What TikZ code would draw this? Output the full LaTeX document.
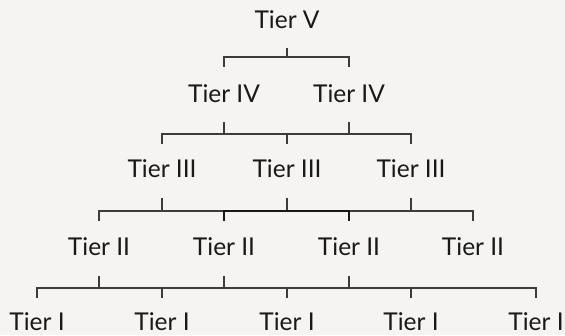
\documentclass[tikz,border=0pt]{standalone}
\usepackage{fontspec}
\setmainfont{Lato}
\definecolor{paper}{HTML}{F5F4F2}
\definecolor{linegray}{HTML}{3C3C3C}
\tikzset{
  tier/.style={font=\fontsize{24.5}{30}\selectfont, text=black!90, anchor=base, inner sep=0pt, text depth=0pt},
  link/.style={draw=linegray, line width=1.2pt, line cap=butt},
  strong/.style={draw=black!90, line width=1.5pt}
}
\begin{document}
\begin{tikzpicture}[x=1pt,y=-1pt]
\fill[paper] (0,0) rectangle (565,335);
\useasboundingbox (0,0) rectangle (565,335);
% nodes
\node[tier] (t5)  at (287,28) {Tier V};
\node[tier] (t4a) at (224,102) {Tier IV};
\node[tier] (t4b) at (349,102) {Tier IV};
\node[tier] (t3a) at (162,177) {Tier III};
\node[tier] (t3b) at (287,177) {Tier III};
\node[tier] (t3c) at (411,177) {Tier III};
\node[tier] (t2a) at (99,255) {Tier II};
\node[tier] (t2b) at (224,255) {Tier II};
\node[tier] (t2c) at (349,255) {Tier II};
\node[tier] (t2d) at (473,255) {Tier II};
\node[tier] (t1a) at (37,330) {Tier I};
\node[tier] (t1b) at (162,330) {Tier I};
\node[tier] (t1c) at (287,330) {Tier I};
\node[tier] (t1d) at (411,330) {Tier I};
\node[tier] (t1e) at (536,330) {Tier I};
% levels
\coordinate (u5) at (0,48);  \coordinate (h5) at (0,57);  \coordinate (d5) at (0,67);
\coordinate (u4) at (0,122); \coordinate (h4) at (0,134); \coordinate (d4) at (0,144);
\coordinate (u3) at (0,198); \coordinate (h3) at (0,211); \coordinate (d3) at (0,221);
\coordinate (u2) at (0,276); \coordinate (h2) at (0,288); \coordinate (d2) at (0,298);
% V -> IV
\draw[link] (t5 |- u5) -- (t5 |- h5);
\draw[link] (t4a |- d5) -- (t4a |- h5) -- (t4b |- h5) -- (t4b |- d5);
% IV -> III
\draw[link] (t4a |- u4) -- (t4a |- h4);
\draw[link] (t4b |- u4) -- (t4b |- h4);
\draw[link] (t3a |- d4) -- (t3a |- h4) -- (t3c |- h4) -- (t3c |- d4);
\draw[link] (t3b |- h4) -- (t3b |- d4);
% III -> II
\draw[link] (t3a |- u3) -- (t3a |- h3);
\draw[link] (t3b |- u3) -- (t3b |- h3);
\draw[link] (t3c |- u3) -- (t3c |- h3);
\draw[link] (t2a |- d3) -- (t2a |- h3) -- (t2d |- h3) -- (t2d |- d3);
\draw[strong] (t2b |- d3) -- (t2b |- h3) -- (t2c |- h3) -- (t2c |- d3);
% II -> I
\draw[link] (t2a |- u2) -- (t2a |- h2);
\draw[link] (t2b |- u2) -- (t2b |- h2);
\draw[link] (t2c |- u2) -- (t2c |- h2);
\draw[link] (t1a |- d2) -- (t1a |- h2) -- (t1e |- h2) -- (t1e |- d2);
\draw[link] (t1b |- h2) -- (t1b |- d2);
\draw[link] (t1c |- h2) -- (t1c |- d2);
\draw[link] (t1d |- h2) -- (t1d |- d2);
\end{tikzpicture}
\end{document}
